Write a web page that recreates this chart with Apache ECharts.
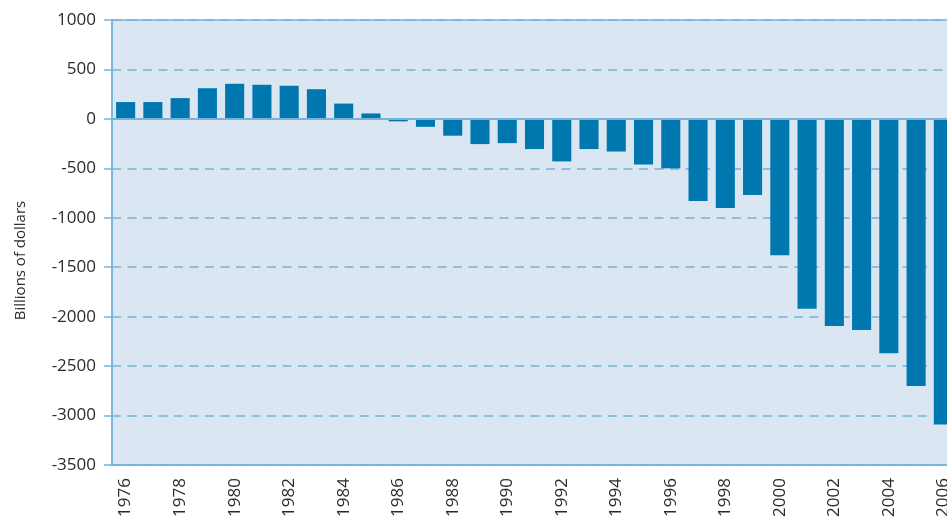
<!DOCTYPE html>
<html>
<head>
<meta charset="UTF-8">
<title></title>
<style>
  html, body { margin: 0; padding: 0; background: #fff; overflow: hidden; }
  #charts { width: 970px; height: 518px; }
</style>
</head>
<body>
<div id="charts"></div>
<script src="https://cdn.jsdelivr.net/npm/echarts@6/dist/echarts.min.js"></script>
<script>
// years on the x axis
var years = ['1976','1977','1978','1979','1980','1981','1982','1983','1984','1985',
             '1986','1987','1988','1989','1990','1991','1992','1993','1994','1995',
             '1996','1997','1998','1999','2000','2001','2002','2003','2004','2005','2006'];
// net position, billions of dollars
var balance = [170, 170, 210, 310, 355, 345, 335, 300, 155, 55,
               -25, -80, -170, -255, -245, -305, -430, -305, -330, -460,
               -500, -830, -900, -770, -1380, -1920, -2095, -2135, -2370, -2700, -3090];
var yTicks = [1000, -3500, 500];   // max, min, interval

var lineBlue = '#78b2d8';
// chart is wider than the window, the right side gets cut off like in the original
var mycharts = echarts.init(document.getElementById('charts'));

var option = {
  backgroundColor: '#ffffff',
  animation: false,
  grid: {
    left: 112, top: 20, width: 845, bottom: 53,
    outerBoundsMode: 'none',
    show: true,
    backgroundColor: '#dae6f1',
    borderColor: lineBlue,
    borderWidth: 1.5
  },
  xAxis: {
    type: 'category',
    data: years,
    axisLine: { onZero: false, show: true, lineStyle: { color: lineBlue, width: 1.5 } },
    axisTick: { show: false },
    axisLabel: {
      interval: 1,
      rotate: 90,
      margin: 13,
      color: '#2b2b2b',
      fontSize: 17,
      fontFamily: 'Open Sans'
    }
  },
  yAxis: {
    type: 'value',
    max: yTicks[0],
    min: yTicks[1],
    interval: yTicks[2],
    name: 'Billions of dollars',
    nameLocation: 'middle',
    nameGap: 84,
    nameTextStyle: { color: '#2b2b2b', fontSize: 15, fontFamily: 'Open Sans', padding: [0, 36, 0, 0] },
    axisLine: { show: true, lineStyle: { color: lineBlue, width: 1.5 } },
    axisTick: { show: true, length: 8, lineStyle: { color: lineBlue, width: 1.5 } },
    axisLabel: {
      margin: 16,
      color: '#2b2b2b',
      fontSize: 17,
      fontFamily: 'Open Sans',
      formatter: function (v) { return String(v); }
    },
    splitLine: {
      show: true,
      lineStyle: { color: lineBlue, width: 1.5, type: [9, 6.5] }
    }
  },
  series: [
    {
      name: 'balance',
      type: 'bar',
      data: balance,
      barCategoryGap: '30%',
      itemStyle: { color: '#0077ae' },
      markLine: {
        silent: true,
        symbol: 'none',
        label: { show: false },
        lineStyle: { color: lineBlue, width: 2, type: 'solid' },
        data: [{ yAxis: 0 }]
      }
    }
  ]
};
mycharts.setOption(option);
</script>
</body>
</html>
